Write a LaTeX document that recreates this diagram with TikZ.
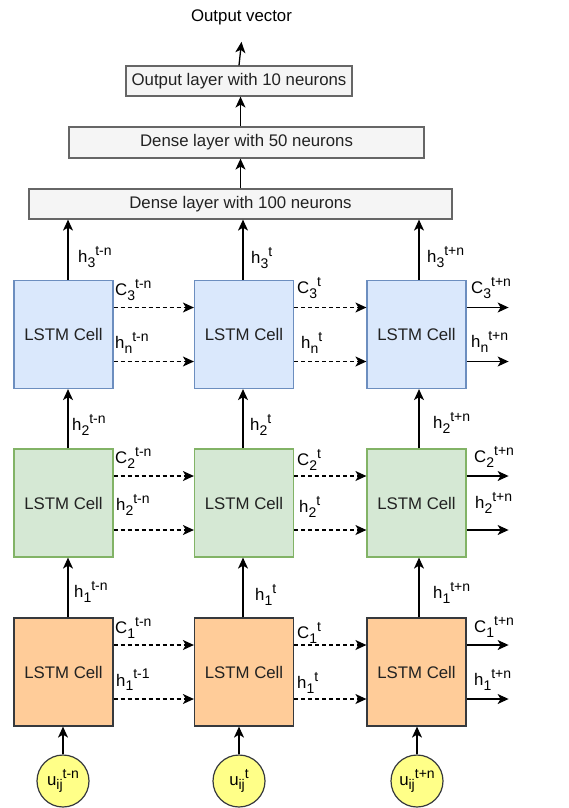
\documentclass[tikz,border=0pt]{standalone}
\usepackage{fontspec}
\setmainfont{Liberation Sans}
\usetikzlibrary{arrows.meta}

\definecolor{layerfill}{HTML}{F5F5F5}
\definecolor{layerline}{HTML}{666666}
\definecolor{bluefill}{HTML}{DAE8FC}
\definecolor{blueline}{HTML}{6C8EBF}
\definecolor{greenfill}{HTML}{D5E8D4}
\definecolor{greenline}{HTML}{82B366}
\definecolor{orangefill}{HTML}{FFCC99}
\definecolor{yellowfill}{HTML}{FFFF88}
\definecolor{darkline}{HTML}{36393D}
\definecolor{textgray}{HTML}{222222}

% variable with subscript and superscript side by side
\newcommand\svar[3]{#1\raisebox{-0.28em}{\fontsize{14}{14}\selectfont #2}\raisebox{0.42em}{\fontsize{14}{14}\selectfont #3}}

\tikzset{
  basefont/.style={font=\fontsize{16.8}{20}\selectfont},
  arr/.style={-{Stealth[length=11pt,width=10pt,inset=3pt]}, line width=1.3pt, black},
  dasharr/.style={arr, dash pattern=on 4pt off 3pt},
  layer/.style={draw=layerline, fill=layerfill, line width=1.2pt, basefont, text=textgray, inner sep=0pt},
  cell/.style={minimum width=99pt, minimum height=108pt, line width=1.2pt, basefont, text=textgray, inner sep=0pt},
  bluecell/.style={cell, draw=blueline, fill=bluefill},
  greencell/.style={cell, draw=greenline, fill=greenfill},
  orangecell/.style={cell, draw=darkline, fill=orangefill},
  inputnode/.style={circle, draw=darkline, fill=yellowfill, line width=1.2pt, minimum size=52pt, inner sep=0pt, basefont},
  lbl/.style={anchor=west, inner sep=0pt, basefont},
}

\begin{document}
\begin{tikzpicture}[x=1pt,y=-1pt]
\useasboundingbox (0,0) rectangle (568,808);

% dense head
\node[basefont, inner sep=0pt] (outv) at (241.5,17) {Output vector};
\node[layer, minimum width=226pt, minimum height=30pt] (outl) at (239,81) {Output layer with 10 neurons};
\node[layer, minimum width=355pt, minimum height=31pt] (d50) at (246.5,142.5) {Dense layer with 50 neurons};
\node[layer, minimum width=423pt, minimum height=30pt] (d100) at (240.5,204) {Dense layer with 100 neurons};

% LSTM cells: rows from top (3) to bottom (1)
\node[bluecell] (r3c1) at (63.5,334.5) {LSTM Cell};
\node[bluecell] (r3c2) at (244,334.5) {LSTM Cell};
\node[bluecell] (r3c3) at (416.5,334.5) {LSTM Cell};
\node[greencell] (r2c1) at (63.5,503) {LSTM Cell};
\node[greencell] (r2c2) at (244,503) {LSTM Cell};
\node[greencell] (r2c3) at (416.5,503) {LSTM Cell};
\node[orangecell] (r1c1) at (63.5,672) {LSTM Cell};
\node[orangecell] (r1c2) at (244,672) {LSTM Cell};
\node[orangecell] (r1c3) at (416.5,672) {LSTM Cell};

% inputs
\node[inputnode] (u1) at (63,781) {\svar{u}{ij}{t-n}};
\node[inputnode] (u2) at (239,781) {\svar{u}{ij}{t}};
\node[inputnode] (u3) at (417,781) {\svar{u}{ij}{t+n}};

% head connections
\draw[arr] (d100.north) -- (d100.north |- d50.south);
\draw[arr] (d100.north |- d50.north) -- (d100.north |- outl.south);
\draw[arr] (outl.north) -- ([yshift=-17pt]outv.south);

% inputs into the first layer
\foreach \c in {1,2,3}{
  \draw[arr] (u\c.north) -- (u\c.north |- r1c\c.south);
}

% vertical hidden-state flow
\foreach \c/\dx in {1/4.5,2/-1,3/2.5}{
  \draw[arr] ([xshift=\dx pt]r1c\c.north) -- ([xshift=\dx pt]r2c\c.south);
  \draw[arr] ([xshift=\dx pt]r2c\c.north) -- ([xshift=\dx pt]r3c\c.south);
  \draw[arr] ([xshift=\dx pt]r3c\c.north) -- ([xshift=\dx pt]r3c\c.north |- d100.south);
}

% recurrent state flow between time steps
\foreach \r in {1,2,3}{
  \draw[dasharr] ([yshift=27pt]r\r c1.east) -- ([yshift=27pt]r\r c2.west);
  \draw[dasharr] ([yshift=-27pt]r\r c1.east) -- ([yshift=-27pt]r\r c2.west);
  \draw[dasharr] ([yshift=27pt]r\r c2.east) -- ([yshift=27pt]r\r c3.west);
  \draw[dasharr] ([yshift=-27pt]r\r c2.east) -- ([yshift=-27pt]r\r c3.west);
  \draw[arr] ([yshift=27pt]r\r c3.east) -- ++(42,0);
  \draw[arr] ([yshift=-27pt]r\r c3.east) -- ++(42,0);
}

% labels, top row
\node[lbl] at (78,257) {\svar{h}{3}{t-n}};
\node[lbl] at (251,258) {\svar{h}{3}{t}};
\node[lbl] at (427,257) {\svar{h}{3}{t+n}};
\node[lbl] at (115,290) {\svar{C}{3}{t-n}};
\node[lbl] at (297,288) {\svar{C}{3}{t}};
\node[lbl] at (471,288) {\svar{C}{3}{t+n}};
\node[lbl] at (115,343) {\svar{h}{n}{t-n}};
\node[lbl] at (301,343) {\svar{h}{n}{t}};
\node[lbl] at (471,342) {\svar{h}{n}{t+n}};

% labels, middle row
\node[lbl] at (72,425) {\svar{h}{2}{t-n}};
\node[lbl] at (250,425) {\svar{h}{2}{t}};
\node[lbl] at (433,423) {\svar{h}{2}{t+n}};
\node[lbl] at (115,458) {\svar{C}{2}{t-n}};
\node[lbl] at (297,460) {\svar{C}{2}{t}};
\node[lbl] at (474,457) {\svar{C}{2}{t+n}};
\node[lbl] at (116,505) {\svar{h}{2}{t-n}};
\node[lbl] at (299,507) {\svar{h}{2}{t}};
\node[lbl] at (475,503) {\svar{h}{2}{t+n}};

% labels, bottom row
\node[lbl] at (74,592) {\svar{h}{1}{t-n}};
\node[lbl] at (255,595) {\svar{h}{1}{t}};
\node[lbl] at (433,593) {\svar{h}{1}{t+n}};
\node[lbl] at (115,628) {\svar{C}{1}{t-n}};
\node[lbl] at (297,633) {\svar{C}{1}{t}};
\node[lbl] at (474,627) {\svar{C}{1}{t+n}};
\node[lbl] at (116,680) {\svar{h}{1}{t-1}};
\node[lbl] at (297,683) {\svar{h}{1}{t}};
\node[lbl] at (474,680) {\svar{h}{1}{t+n}};
\end{tikzpicture}
\end{document}
